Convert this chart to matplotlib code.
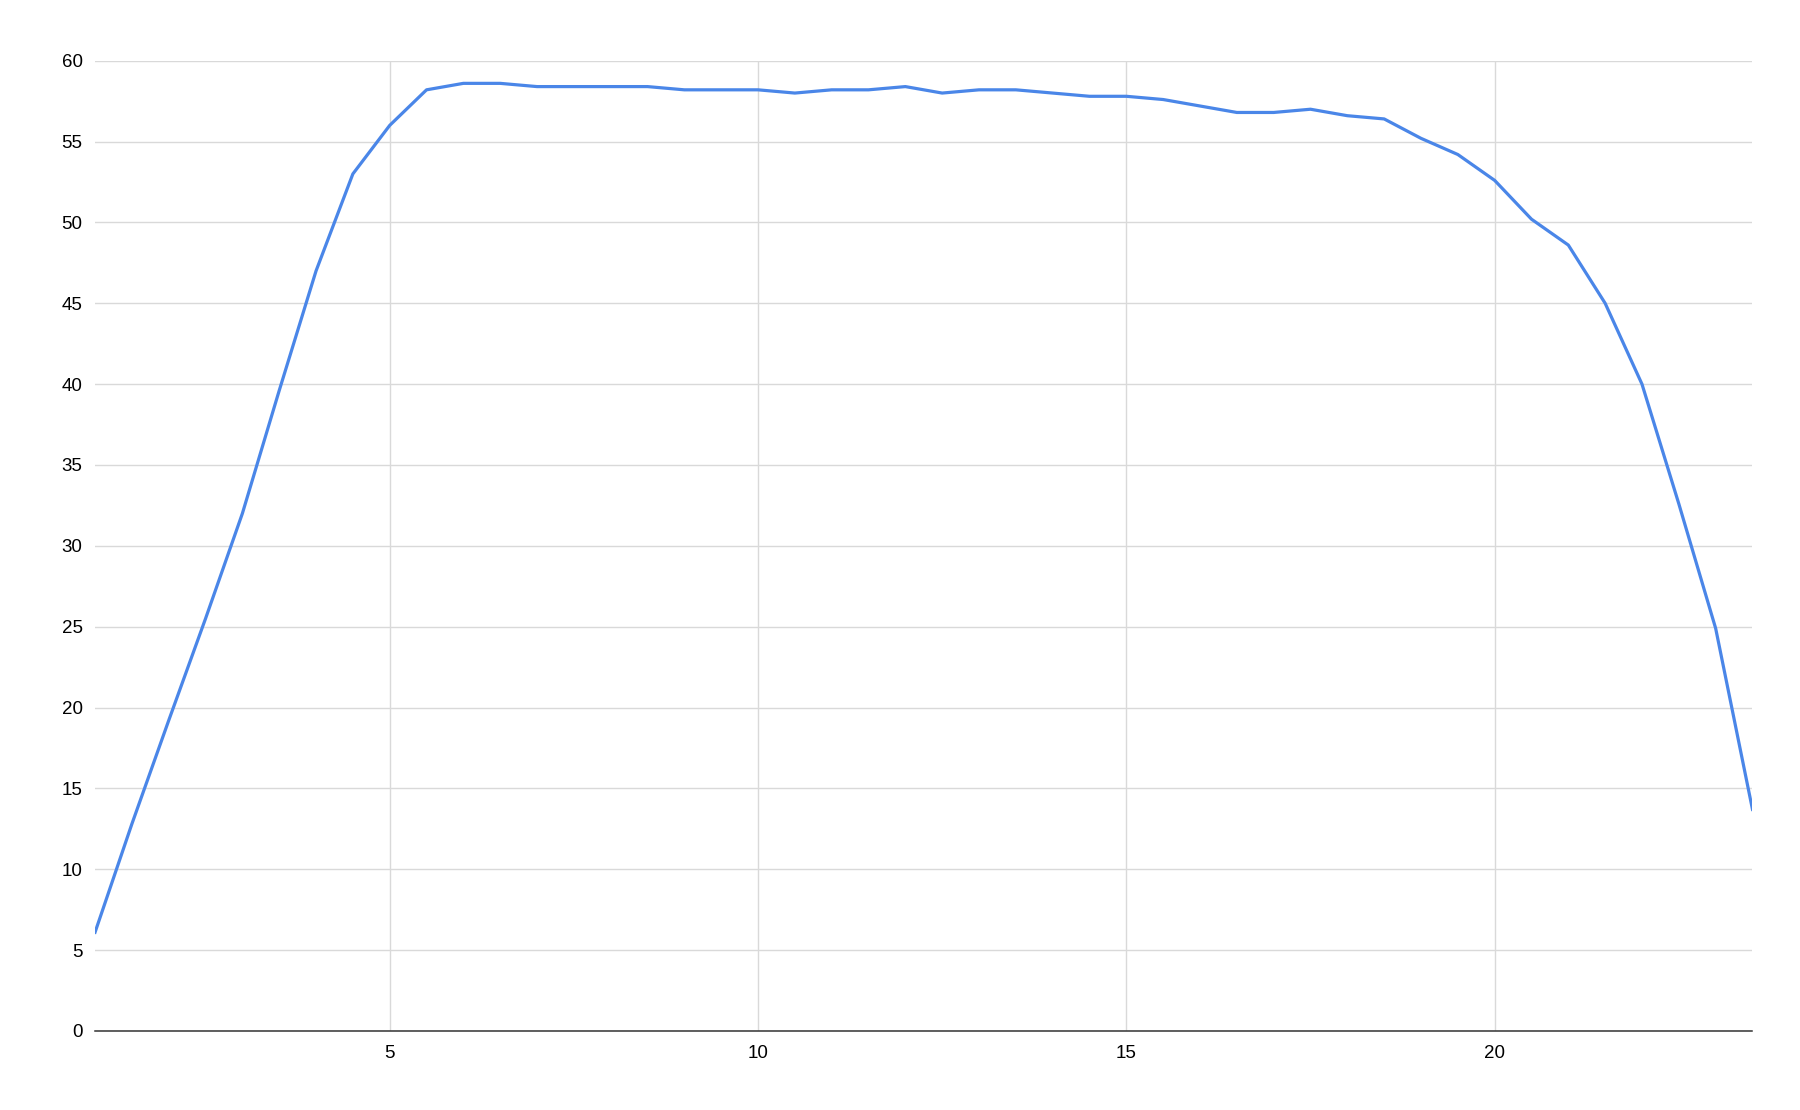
import matplotlib
matplotlib.use("Agg")
import matplotlib.pyplot as plt

# ── Data ──────────────────────────────────────────────────────────────
x_vals = [1.0, 1.5, 2.0, 2.5, 3.0, 3.5, 4.0, 4.5, 5.0, 5.5,
          6.0, 6.5, 7.0, 7.5, 8.0, 8.5, 9.0, 9.5, 10.0, 10.5,
          11.0, 11.5, 12.0, 12.5, 13.0, 13.5, 14.0, 14.5, 15.0, 15.5,
          16.0, 16.5, 17.0, 17.5, 18.0, 18.5, 19.0, 19.5, 20.0, 20.5,
          21.0, 21.5, 22.0, 22.5, 23.0, 23.5]
y_vals = [6.1, 12.8, 19.2, 25.5, 32.0, 39.6, 47.0, 53.0, 56.0, 58.2,
          58.6, 58.6, 58.4, 58.4, 58.4, 58.4, 58.2, 58.2, 58.2, 58.0,
          58.2, 58.2, 58.4, 58.0, 58.2, 58.2, 58.0, 57.8, 57.8, 57.6,
          57.2, 56.8, 56.8, 57.0, 56.6, 56.4, 55.2, 54.2, 52.6, 50.2,
          48.6, 45.0, 40.0, 32.6, 24.9, 13.7]
x_ticks = [5, 10, 15, 20]
y_ticks = [0, 5, 10, 15, 20, 25, 30, 35, 40, 45, 50, 55, 60]

plt.rcParams["font.family"] = ["Liberation Sans", "DejaVu Sans"]

fig = plt.figure(figsize=(18, 11.1), dpi=100)
ax = fig.add_axes([0.0528, 0.0712, 0.9208, 0.8741])

ax.plot(x_vals, y_vals, color="#4a86e8", linewidth=2.3, solid_joinstyle="round")

ax.set_xlim(1, 23.5)
ax.set_ylim(0, 60)
ax.set_xticks(x_ticks)
ax.set_yticks(y_ticks)
ax.set_xticklabels([str(t) for t in x_ticks])
ax.set_yticklabels([str(t) for t in y_ticks])

ax.grid(True, color="#d9d9d9", linewidth=1.0)
ax.set_axisbelow(True)
for side in ("top", "right", "left"):
    ax.spines[side].set_visible(False)
ax.spines["bottom"].set_color("#333333")
ax.spines["bottom"].set_linewidth(1.1)
ax.spines["bottom"].set_zorder(3)

ax.tick_params(axis="both", length=0, labelsize=13.5, colors="#000000")
ax.tick_params(axis="y", pad=9)
ax.tick_params(axis="x", pad=10)

fig.savefig("out.png", dpi=100)
